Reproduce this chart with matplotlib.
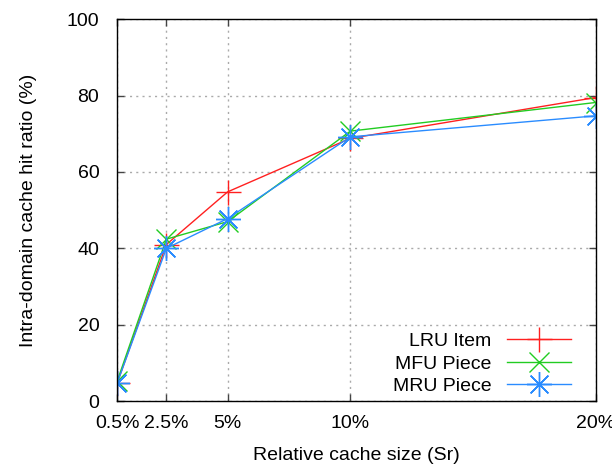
import matplotlib
matplotlib.use("Agg")
import matplotlib.pyplot as plt

plt.rcParams['font.family'] = ['Liberation Sans', 'DejaVu Sans']

x_vals = [0.5, 2.5, 5, 10, 20]
x_labels = ['0.5%', '2.5%', '5%', '10%', '20%']
lru_item = [4.8, 41.0, 54.8, 68.8, 79.5]
mfu_piece = [5.3, 42.4, 47.0, 70.7, 78.2]
mru_piece = [4.8, 40.0, 47.8, 69.2, 74.7]

fig = plt.figure(figsize=(6.12, 4.67), dpi=100)
ax = fig.add_axes([0.1917, 0.1413, 0.7814, 0.8174])

ax.plot(x_vals, lru_item, color='#ff2020', lw=1.0, marker='+', ms=18, mew=1.0, label='LRU Item')
ax.plot(x_vals, mfu_piece, color='#22cc22', lw=1.0, marker='x', ms=14, mew=1.0, label='MFU Piece')
ax.plot(x_vals, mru_piece, color='#2a8cff', lw=1.0, marker=(8, 2, 0), ms=18, mew=1.0, label='MRU Piece')

ax.set_xlim(0.5, 20)
ax.set_ylim(0, 100)
ax.set_xticks(x_vals)
ax.set_xticklabels(x_labels)
ax.set_yticks([0, 20, 40, 60, 80, 100])
ax.tick_params(direction='in', top=True, right=True, labelsize=14, length=5, width=1,
               colors='#444444', labelcolor='black')
ax.tick_params(axis='x', pad=10)
ax.tick_params(axis='y', pad=13)
ax.grid(True, linestyle=(0, (1.5, 3)), color='#aaaaaa', lw=1)
for s in ax.spines.values():
    s.set_linewidth(1.0)

ax.set_xlabel('Relative cache size (Sr)', fontsize=14, labelpad=11)
ax.set_ylabel('Intra-domain cache hit ratio (%)', fontsize=14, labelpad=21)

leg = ax.legend(loc='lower right', frameon=False, markerfirst=False, fontsize=14,
                handlelength=3.3, labelspacing=0.25, handletextpad=0.8,
                borderaxespad=0.0, bbox_to_anchor=(0.965, -0.005))

fig.savefig('out.png', dpi=100)
